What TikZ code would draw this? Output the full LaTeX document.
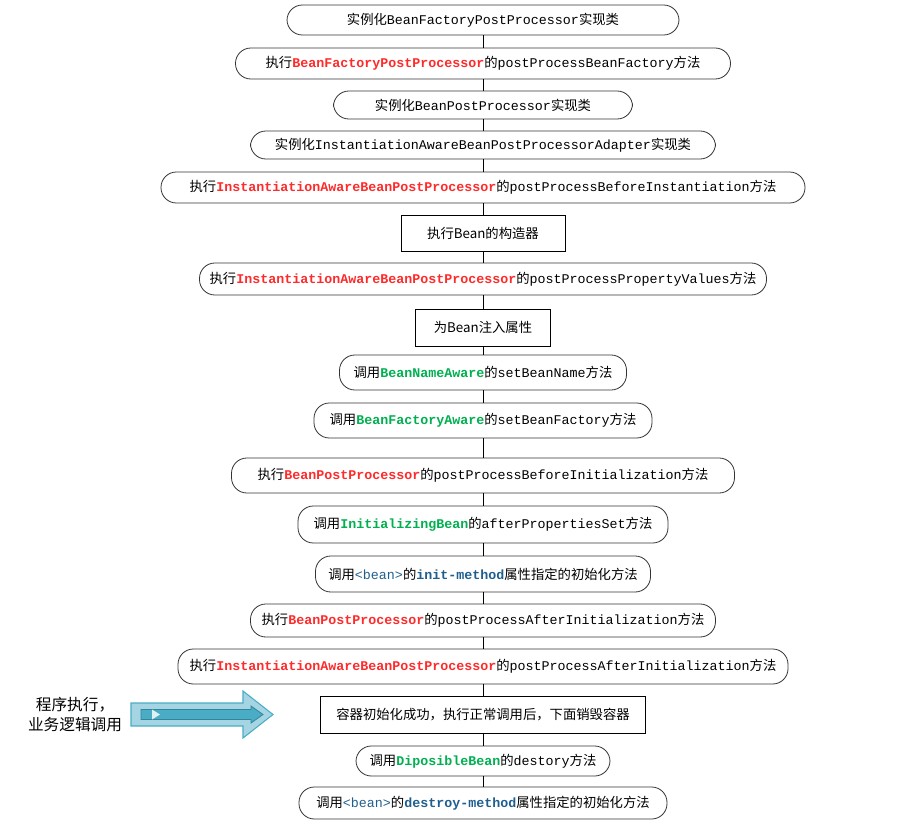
\documentclass[tikz,border=0pt]{standalone}
\usepackage{fontspec}
\setmainfont{Noto Sans CJK SC}
\setmonofont{Liberation Mono}
\definecolor{cred}{HTML}{FF2A2A}
\definecolor{cgreen}{HTML}{00B050}
\definecolor{cblue}{HTML}{1F5F8F}
\definecolor{aoutfill}{HTML}{A5D5E2}
\definecolor{aoutline}{HTML}{4BACC6}
\definecolor{ainfill}{HTML}{4BACC6}
\definecolor{ainline}{HTML}{31859C}
\definecolor{atri}{HTML}{DDF0F4}
\newcommand{\mo}[1]{\texttt{#1}}
\newcommand{\rd}[1]{\textcolor{cred}{\textbf{\texttt{#1}}}}
\newcommand{\gr}[1]{\textcolor{cgreen}{\textbf{\texttt{#1}}}}
\newcommand{\bl}[1]{\textcolor{cblue}{\texttt{#1}}}
\newcommand{\blb}[1]{\textcolor{cblue}{\textbf{\texttt{#1}}}}
\tikzset{
  pill/.style={draw=black!80, line width=0.6pt, rounded corners=11.5pt, inner sep=0pt, font=\fontsize{10}{12}\selectfont},
  boxr/.style={draw=black, line width=0.6pt, inner sep=0pt, font=\fontsize{10}{12}\selectfont},
  link/.style={draw=black, line width=0.6pt}
}
\begin{document}
\begin{tikzpicture}[x=0.75pt,y=-0.75pt]
\useasboundingbox (0,0) rectangle (917,828);
\node[pill, minimum width=294pt, minimum height=22.5pt] (n1) at (483,20) {实例化\mo{BeanFactoryPostProcessor}实现类};
\node[pill, minimum width=371.25pt, minimum height=23.25pt] (n2) at (483,63.5) {执行\rd{BeanFactoryPostProcessor}的\mo{postProcessBeanFactory}方法};
\node[pill, minimum width=224.25pt, minimum height=21pt] (n3) at (483,105) {实例化\mo{BeanPostProcessor}实现类};
\node[pill, minimum width=348.75pt, minimum height=21pt] (n4) at (483,145) {实例化\mo{InstantiationAwareBeanPostProcessorAdapter}实现类};
\node[pill, minimum width=483pt, minimum height=23.25pt] (n5) at (483,187.5) {执行\rd{InstantiationAwareBeanPostProcessor}的\mo{postProcessBeforeInstantiation}方法};
\node[boxr, minimum width=123pt, minimum height=27pt] (n6) at (483,233) {执行Bean的构造器};
\node[pill, minimum width=425.25pt, minimum height=24pt] (n7) at (483,279) {执行\rd{InstantiationAwareBeanPostProcessor}的\mo{postProcessPropertyValues}方法};
\node[boxr, minimum width=101.25pt, minimum height=27.75pt] (n8) at (483,327.5) {为Bean注入属性};
\node[pill, minimum width=215.25pt, minimum height=26.25pt] (n9) at (483,372.5) {调用\gr{BeanNameAware}的\mo{setBeanName}方法};
\node[pill, minimum width=253.5pt, minimum height=26.25pt] (n10) at (483,420.5) {调用\gr{BeanFactoryAware}的\mo{setBeanFactory}方法};
\node[pill, minimum width=377.25pt, minimum height=26.25pt] (n11) at (483,475.5) {执行\rd{BeanPostProcessor}的\mo{postProcessBeforeInitialization}方法};
\node[pill, minimum width=277.5pt, minimum height=27.75pt] (n12) at (483,524.5) {调用\gr{InitializingBean}的\mo{afterPropertiesSet}方法};
\node[pill, minimum width=251.25pt, minimum height=27pt] (n13) at (483,574) {调用\bl{<bean>}的\blb{init-method}属性指定的初始化方法};
\node[pill, minimum width=348.75pt, minimum height=24.75pt] (n14) at (483,620.5) {执行\rd{BeanPostProcessor}的\mo{postProcessAfterInitialization}方法};
\node[pill, minimum width=457.5pt, minimum height=26.25pt] (n15) at (483,666.5) {执行\rd{InstantiationAwareBeanPostProcessor}的\mo{postProcessAfterInitialization}方法};
\node[boxr, minimum width=243.75pt, minimum height=27.75pt] (n16) at (483,714.5) {容器初始化成功，执行正常调用后，下面销毁容器};
\node[pill, minimum width=190.5pt, minimum height=22.5pt] (n17) at (483,761) {调用\gr{DiposibleBean}的\mo{destory}方法};
\node[pill, minimum width=276pt, minimum height=24pt] (n18) at (483,803) {调用\bl{<bean>}的\blb{destroy-method}属性指定的初始化方法};
\foreach \a/\b in {n1/n2,n2/n3,n3/n4,n4/n5,n5/n6,n6/n7,n7/n8,n8/n9,n9/n10,n10/n11,n11/n12,n12/n13,n13/n14,n14/n15,n15/n16,n16/n17,n17/n18}
  \draw[link] (\a) -- (\b);
% block arrow
\draw[fill=aoutfill, draw=aoutline, line width=0.8pt]
  (131,703) -- (243,703) -- (243,691) -- (273,714.5) -- (243,738) -- (243,726) -- (131,726) -- cycle;
\draw[fill=ainfill, draw=ainline, line width=0.6pt]
  (141,709.5) -- (251,709.5) -- (251,706) -- (263,714.5) -- (251,723) -- (251,719.5) -- (141,719.5) -- cycle;
\fill[atri] (152,709.5) -- (160,714.5) -- (152,719.5) -- cycle;
\node[align=center, font=\fontsize{11.75}{15}\selectfont, inner sep=0pt] (lbl) at (75,715) {程序执行，\\业务逻辑调用};
\end{tikzpicture}
\end{document}
